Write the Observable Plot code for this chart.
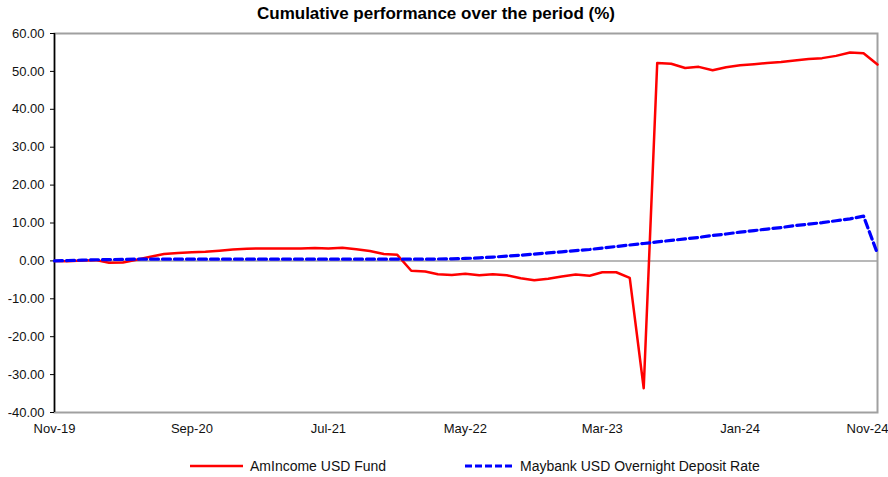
<!DOCTYPE html>
<html>
<head>
<meta charset="utf-8">
<script src="https://cdn.jsdelivr.net/npm/d3@7"></script>
<script src="https://cdn.jsdelivr.net/npm/@observablehq/plot@0.6"></script>
<style>
  body { margin: 0; background: #fff; font-family: "Liberation Sans", Arial, sans-serif; }
  #wrap { position: relative; width: 888px; height: 477px; overflow: hidden; }
  #title { position: absolute; left: 0; width: 872px; top: 4px; text-align: center; font-weight: bold; font-size: 17px; color: #000; height: 22px; }
  #chart { position: absolute; left: 0; top: 26px; }
  #legend { position: absolute; top: 457px; left: 0; width: 888px; height: 18px; font-size: 14px; color: #111; }
  #legend .item { position: absolute; top: 0; display: flex; align-items: center; }
  #legend svg { display: block; margin-right: 7px; }
</style>
</head>
<body>
<div id="wrap">
  <div id="title">Cumulative performance over the period (%)</div>
  <div id="chart"></div>
  <div id="legend"></div>
</div>
<script>
// Series names
const seriesNames = ["AmIncome USD Fund", "Maybank USD Overnight Deposit Rate"];
// Monthly values, Nov-19 .. Nov-24 (61 months)
const fundValues = [
  0.0, -0.1, 0.1, 0.2, -0.5, -0.4, 0.3, 1.1, 1.8, 2.1,
  2.3, 2.4, 2.7, 3.0, 3.2, 3.3, 3.3, 3.3, 3.3, 3.4,
  3.3, 3.5, 3.1, 2.6, 1.8, 1.6, -2.6, -2.8, -3.5, -3.7,
  -3.4, -3.8, -3.5, -3.8, -4.6, -5.1, -4.7, -4.1, -3.6, -3.9,
  -3.0, -3.0, -4.5, -33.6, 52.2, 52.0, 50.9, 51.2, 50.3, 51.1,
  51.6, 51.9, 52.2, 52.5, 52.9, 53.3, 53.5, 54.1, 55.0, 54.8,
  51.8
];
const benchValues = [
  0.0, 0.1, 0.2, 0.3, 0.35, 0.4,
  0.45, 0.45, 0.45, 0.45, 0.45, 0.45, 0.45, 0.45, 0.45, 0.45, 0.45,
  0.45, 0.45, 0.45, 0.45, 0.45, 0.45, 0.45, 0.45, 0.45, 0.45, 0.45,
  0.5, 0.55, 0.65, 0.8, 1.0, 1.25, 1.5, 1.8, 2.1, 2.4, 2.7, 3.0,
  3.4, 3.8, 4.2, 4.6, 5.0, 5.4, 5.8, 6.2, 6.7, 7.1,
  7.6, 8.0, 8.4, 8.8, 9.3, 9.7, 10.1, 10.6, 11.1, 11.8,
  1.9
];
const startMonth = [2019, 10]; // Nov 2019 (UTC year, month index)
const xTickLabels = ["Nov-19", "Sep-20", "Jul-21", "May-22", "Mar-23", "Jan-24", "Nov-24"];
const xTickMonthIndex = [0, 10, 20, 30, 40, 50, 60];
const yTicks = [-40, -30, -20, -10, 0, 10, 20, 30, 40, 50, 60];
const colors = ["#ff0000", "#0000ff"];

const start = new Date(Date.UTC(startMonth[0], startMonth[1], 1));
const monthDate = i => d3.utcMonth.offset(start, i);

const fundData = fundValues.map((v, i) => ({date: monthDate(i), value: v}));
const benchData = benchValues.map((v, i) => ({date: monthDate(i), value: v}));
const tickDates = xTickMonthIndex.map(monthDate);
const labelOf = new Map(tickDates.map((d, i) => [+d, xTickLabels[i]]));

const chart = Plot.plot({
  width: 888,
  height: 418,
  marginLeft: 54,
  marginRight: 11,
  marginTop: 7,
  marginBottom: 32,
  style: {fontFamily: '"Liberation Sans", Arial, sans-serif', fontSize: "13px", color: "#111", background: "transparent", overflow: "visible"},
  x: {type: "utc", domain: [tickDates[0], tickDates[tickDates.length - 1]]},
  y: {domain: [-40, 60]},
  marks: [
    Plot.frame({stroke: "#a0a0a0", strokeWidth: 2}),
    Plot.ruleY([0], {stroke: "#a0a0a0", strokeWidth: 1.5}),
    Plot.axisY({ticks: yTicks, tickFormat: d => d.toFixed(2), tickSize: 4, tickPadding: 6, stroke: "#000", label: null, fontSize: 13}),
    Plot.axisX({ticks: tickDates.slice(0, -1), tickFormat: d => labelOf.get(+d), tickSize: 0, tickPadding: 11, label: null, fontSize: 13}),
    Plot.axisX({ticks: tickDates.slice(-1), tickFormat: d => labelOf.get(+d), tickSize: 0, tickPadding: 11, dx: -10, label: null, fontSize: 13}),
    Plot.ruleX([tickDates[0]], {stroke: "#000", strokeWidth: 1.5}),
    Plot.lineY(fundData, {x: "date", y: "value", stroke: colors[0], strokeWidth: 2.5}),
    Plot.lineY(benchData, {x: "date", y: "value", stroke: colors[1], strokeWidth: 3.2, strokeDasharray: "8,4"})
  ]
});
document.getElementById("chart").appendChild(chart);

// Legend
const legend = document.getElementById("legend");
const legendPos = [{left: 190, w: 53}, {left: 465, w: 48}];
seriesNames.forEach((name, i) => {
  const item = document.createElement("div");
  item.className = "item";
  item.style.left = legendPos[i].left + "px";
  const w = legendPos[i].w;
  const dash = i === 1 ? ' stroke-dasharray="7,3"' : "";
  item.innerHTML = `<svg width="${w}" height="18"><line x1="0" y1="9" x2="${w}" y2="9" stroke="${colors[i]}" stroke-width="${i === 1 ? 3.2 : 2.5}"${dash}/></svg><span>${name}</span>`;
  legend.appendChild(item);
});
</script>
</body>
</html>
